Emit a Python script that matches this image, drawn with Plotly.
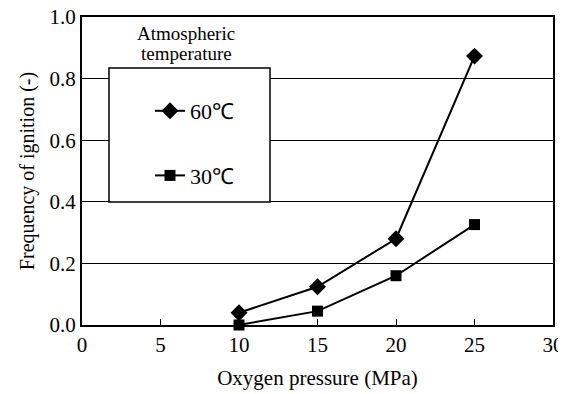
import plotly.graph_objects as go

pressure = [10, 15, 20, 25]
freq_60 = [0.04, 0.124, 0.28, 0.873]
freq_30 = [0.0, 0.045, 0.16, 0.326]
series_names = ["60\u2103", "30\u2103"]
legend_title_lines = ["Atmospheric", "temperature"]
x_title = "Oxygen pressure (MPa)"
y_title = "Frequency of ignition (-)"

FONT = "Liberation Serif"
# page body has an 8px margin: figure origin sits at (8, 8)
OX, OY = 8, 8
W, H = 566 - OX, 394 - OY
L, R, T, B = 82 - OX, 566 - 553, 17 - OY, 394 - 325
PW, PH = W - L - R, H - T - B

fig = go.Figure()
fig.add_trace(go.Scatter(
    x=pressure, y=freq_60, name=series_names[0], mode="lines+markers",
    line=dict(color="black", width=2),
    marker=dict(symbol="diamond", size=13, color="black"),
    cliponaxis=False, legendgroup="a"))
fig.add_trace(go.Scatter(
    x=pressure, y=freq_30, name=series_names[1], mode="lines+markers",
    line=dict(color="black", width=2),
    marker=dict(symbol="square", size=11, color="black"),
    cliponaxis=False, legendgroup="b"))

def px(xp):
    return (xp - 82) / PW

def py(yp):
    return (325 - yp) / PH

ann = []
for i, t in enumerate(legend_title_lines):
    ann.append(dict(
        text=t, xref="paper", yref="paper",
        x=px(186), y=py(33 + 20 * i), xanchor="center", yanchor="middle",
        showarrow=False, font=dict(family=FONT, size=19, color="black"),
    ))

fig.update_layout(
    width=W, height=H,
    margin=dict(l=L, r=R, t=T, b=B, autoexpand=False),
    paper_bgcolor="white", plot_bgcolor="white",
    font=dict(family=FONT, size=21, color="black"),
    showlegend=True,
    legend=dict(
        x=px(150), y=py(90), xanchor="left", yanchor="top",
        bgcolor="rgba(0,0,0,0)", borderwidth=0,
        font=dict(family=FONT, size=22, color="black"),
        traceorder="grouped", tracegroupgap=33,
    ),
    xaxis=dict(
        range=[0, 30], dtick=5, tick0=0, automargin=False,
        showline=True, linecolor="black", linewidth=2, mirror=True,
        ticks="inside", ticklen=6, tickcolor="black", tickwidth=1,
        showgrid=False, zeroline=False, ticklabeloverflow="allow",
        title=dict(text=x_title, font=dict(family=FONT, size=21, color="black"), standoff=14),
        tickfont=dict(family=FONT, size=21, color="black"),
    ),
    yaxis=dict(
        range=[0, 1.0], dtick=0.2, tick0=0, tickformat=".1f", automargin=False,
        showline=True, linecolor="black", linewidth=2, mirror=True,
        ticks="inside", ticklen=6, tickcolor="black", tickwidth=1,
        showgrid=True, gridcolor="black", gridwidth=1, zeroline=False,
        ticklabeloverflow="allow",
        title=dict(text=y_title, font=dict(family=FONT, size=20, color="black"), standoff=10),
        tickfont=dict(family=FONT, size=21, color="black"),
    ),
    shapes=[dict(
        type="rect", xref="paper", yref="paper",
        x0=px(109), x1=px(270), y0=py(202), y1=py(68),
        line=dict(color="black", width=1.5), fillcolor="white", layer="above",
    )],
    annotations=ann,
)

fig.write_html("out.html")
